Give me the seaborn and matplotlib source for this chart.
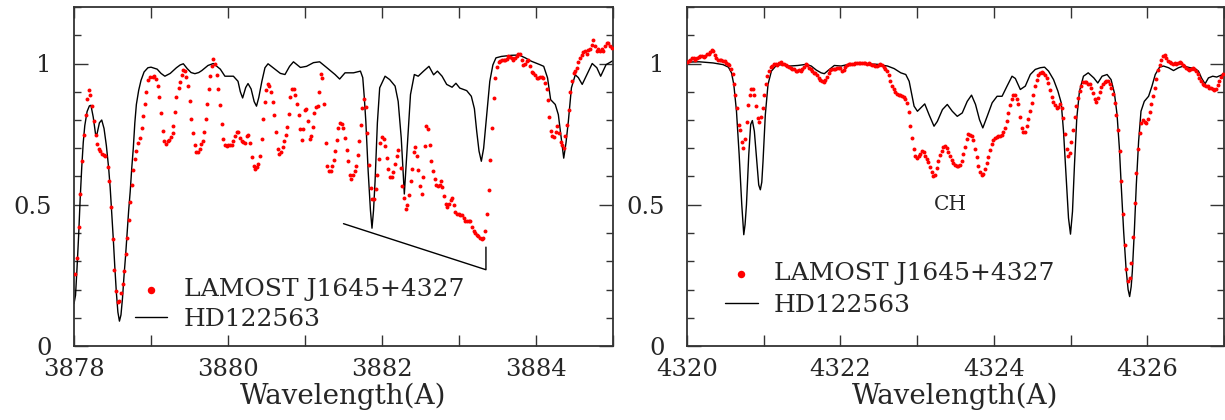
import numpy as np
import pandas as pd
import matplotlib
matplotlib.use('Agg')
import matplotlib.pyplot as plt
import seaborn as sns
from matplotlib.ticker import MultipleLocator, FuncFormatter

sns.set_style('ticks')
plt.rcParams['font.family'] = ['DejaVu Serif']
plt.rcParams['xtick.direction'] = 'in'
plt.rcParams['ytick.direction'] = 'in'

STAR = 'LAMOST J1645+4327'
REF = 'HD122563'

# ---- left window (3878-3885 A): LAMOST points (wavelength, flux) ----
left_dots = [
    (3878.010, 0.254), (3878.040, 0.313), (3878.065, 0.420), (3878.080, 0.538), (3878.100, 0.654),
    (3878.130, 0.748), (3878.150, 0.819), (3878.170, 0.876), (3878.190, 0.905), (3878.210, 0.890),
    (3878.230, 0.851), (3878.260, 0.795), (3878.280, 0.746), (3878.300, 0.715), (3878.320, 0.699),
    (3878.340, 0.690), (3878.360, 0.680), (3878.385, 0.675), (3878.405, 0.674), (3878.440, 0.632),
    (3878.460, 0.585), (3878.485, 0.493), (3878.500, 0.378), (3878.520, 0.270), (3878.545, 0.193),
    (3878.570, 0.154), (3878.590, 0.160), (3878.610, 0.187), (3878.630, 0.219), (3878.650, 0.264),
    (3878.670, 0.325), (3878.690, 0.384), (3878.710, 0.446), (3878.730, 0.508), (3878.750, 0.570),
    (3878.770, 0.623), (3878.790, 0.661), (3878.810, 0.691), (3878.835, 0.718), (3878.857, 0.736),
    (3878.880, 0.772), (3878.900, 0.813), (3878.920, 0.855), (3878.940, 0.899), (3878.965, 0.942),
    (3878.990, 0.951), (3879.020, 0.953), (3879.040, 0.957), (3879.065, 0.946), (3879.085, 0.922),
    (3879.110, 0.881), (3879.125, 0.824), (3879.150, 0.762), (3879.170, 0.725), (3879.195, 0.715),
    (3879.220, 0.725), (3879.240, 0.730), (3879.255, 0.739), (3879.280, 0.753), (3879.290, 0.778),
    (3879.310, 0.827), (3879.330, 0.882), (3879.360, 0.914), (3879.380, 0.935), (3879.400, 0.958),
    (3879.420, 0.977), (3879.445, 0.972), (3879.460, 0.951), (3879.485, 0.920), (3879.500, 0.866),
    (3879.520, 0.804), (3879.545, 0.754), (3879.570, 0.713), (3879.590, 0.685), (3879.610, 0.686),
    (3879.630, 0.699), (3879.650, 0.715), (3879.670, 0.727), (3879.690, 0.757), (3879.710, 0.805),
    (3879.730, 0.857), (3879.750, 0.908), (3879.770, 0.957), (3879.790, 0.990), (3879.810, 1.016),
    (3879.831, 0.999), (3879.853, 0.961), (3879.874, 0.908), (3879.896, 0.852), (3879.918, 0.786),
    (3879.939, 0.734), (3879.961, 0.710), (3879.983, 0.709), (3880.004, 0.710), (3880.026, 0.712),
    (3880.048, 0.713), (3880.069, 0.725), (3880.091, 0.745), (3880.113, 0.758), (3880.134, 0.757),
    (3880.156, 0.736), (3880.178, 0.727), (3880.199, 0.721), (3880.221, 0.718), (3880.242, 0.742),
    (3880.264, 0.748), (3880.290, 0.718), (3880.312, 0.669), (3880.333, 0.638), (3880.355, 0.628),
    (3880.377, 0.632), (3880.394, 0.644), (3880.416, 0.671), (3880.437, 0.734), (3880.459, 0.805),
    (3880.481, 0.864), (3880.498, 0.907), (3880.515, 0.928), (3880.537, 0.920), (3880.559, 0.898),
    (3880.580, 0.864), (3880.602, 0.816), (3880.623, 0.757), (3880.645, 0.699), (3880.667, 0.680),
    (3880.688, 0.686), (3880.710, 0.703), (3880.727, 0.725), (3880.749, 0.748), (3880.771, 0.775),
    (3880.788, 0.823), (3880.810, 0.882), (3880.831, 0.911), (3880.853, 0.908), (3880.874, 0.887),
    (3880.896, 0.855), (3880.918, 0.817), (3880.939, 0.768), (3880.961, 0.728), (3880.978, 0.768),
    (3881.000, 0.837), (3881.017, 0.840), (3881.039, 0.798), (3881.061, 0.734), (3881.082, 0.742),
    (3881.100, 0.775), (3881.121, 0.825), (3881.143, 0.845), (3881.165, 0.851), (3881.186, 0.899),
    (3881.208, 0.963), (3881.225, 0.947), (3881.247, 0.855), (3881.268, 0.719), (3881.290, 0.636),
    (3881.312, 0.618), (3881.333, 0.621), (3881.355, 0.636), (3881.372, 0.660), (3881.394, 0.689),
    (3881.416, 0.730), (3881.433, 0.770), (3881.455, 0.790), (3881.476, 0.786), (3881.498, 0.772),
    (3881.519, 0.736), (3881.541, 0.693), (3881.563, 0.654), (3881.580, 0.606), (3881.602, 0.591),
    (3881.623, 0.604), (3881.645, 0.621), (3881.667, 0.636), (3881.684, 0.675), (3881.706, 0.727),
    (3881.727, 0.784), (3881.745, 0.843), (3881.766, 0.875), (3881.788, 0.846), (3881.810, 0.754),
    (3881.831, 0.642), (3881.853, 0.561), (3881.874, 0.520), (3881.896, 0.520), (3881.918, 0.557),
    (3881.935, 0.606), (3881.957, 0.663), (3881.978, 0.719), (3882.000, 0.739), (3882.022, 0.734),
    (3882.043, 0.707), (3882.065, 0.666), (3882.082, 0.628), (3882.104, 0.600), (3882.126, 0.597),
    (3882.147, 0.615), (3882.169, 0.644), (3882.190, 0.674), (3882.212, 0.693), (3882.242, 0.630),
    (3882.264, 0.565), (3882.286, 0.524), (3882.307, 0.486), (3882.329, 0.498), (3882.351, 0.533),
    (3882.372, 0.585), (3882.390, 0.627), (3882.411, 0.686), (3882.433, 0.703), (3882.455, 0.674),
    (3882.472, 0.622), (3882.494, 0.565), (3882.515, 0.539), (3882.537, 0.600), (3882.558, 0.709),
    (3882.576, 0.780), (3882.597, 0.768), (3882.619, 0.710), (3882.641, 0.656), (3882.662, 0.618),
    (3882.684, 0.591), (3882.706, 0.571), (3882.727, 0.565), (3882.749, 0.569), (3882.771, 0.583),
    (3882.784, 0.562), (3882.805, 0.530), (3882.827, 0.502), (3882.848, 0.491), (3882.870, 0.504),
    (3882.892, 0.518), (3882.913, 0.524), (3882.931, 0.500), (3882.952, 0.476), (3882.974, 0.469),
    (3882.996, 0.467), (3883.017, 0.465), (3883.039, 0.462), (3883.061, 0.453), (3883.082, 0.441),
    (3883.104, 0.443), (3883.126, 0.441), (3883.147, 0.443), (3883.169, 0.420), (3883.190, 0.408),
    (3883.212, 0.400), (3883.230, 0.393), (3883.251, 0.388), (3883.273, 0.382), (3883.294, 0.378),
    (3883.316, 0.384), (3883.338, 0.408), (3883.364, 0.467), (3883.385, 0.552), (3883.407, 0.657),
    (3883.429, 0.772), (3883.450, 0.877), (3883.472, 0.949), (3883.494, 0.987), (3883.515, 1.006),
    (3883.537, 1.008), (3883.558, 1.011), (3883.580, 1.012), (3883.602, 1.014), (3883.623, 1.017),
    (3883.641, 1.026), (3883.662, 1.022), (3883.684, 1.018), (3883.706, 1.014), (3883.727, 1.020),
    (3883.749, 1.026), (3883.771, 1.032), (3883.792, 1.035), (3883.814, 1.014), (3883.836, 0.996),
    (3883.857, 1.000), (3883.879, 1.008), (3883.900, 1.011), (3883.922, 0.991), (3883.944, 0.970),
    (3883.965, 0.967), (3883.987, 0.961), (3884.009, 0.949), (3884.030, 0.947), (3884.052, 0.952),
    (3884.074, 0.952), (3884.095, 0.947), (3884.117, 0.931), (3884.139, 0.911), (3884.156, 0.872),
    (3884.173, 0.811), (3884.190, 0.760), (3884.212, 0.742), (3884.234, 0.740), (3884.255, 0.757),
    (3884.277, 0.778), (3884.299, 0.754), (3884.320, 0.722), (3884.342, 0.710), (3884.359, 0.701),
    (3884.381, 0.742), (3884.403, 0.784), (3884.424, 0.837), (3884.446, 0.900), (3884.468, 0.937),
    (3884.489, 0.967), (3884.507, 0.973), (3884.528, 0.985), (3884.550, 1.005), (3884.571, 1.018),
    (3884.593, 1.030), (3884.615, 1.040), (3884.636, 1.044), (3884.658, 1.034), (3884.680, 1.047),
    (3884.701, 1.050), (3884.723, 1.065), (3884.745, 1.082), (3884.766, 1.062), (3884.788, 1.046),
    (3884.810, 1.050), (3884.831, 1.046), (3884.853, 1.052), (3884.874, 1.046), (3884.896, 1.062),
    (3884.918, 1.071), (3884.939, 1.073), (3884.961, 1.062), (3884.983, 1.056),
]

# ---- left window: HD122563 comparison spectrum ----
left_line = [
    (3878.000, 0.150), (3878.020, 0.180), (3878.040, 0.280), (3878.060, 0.390), (3878.080, 0.520),
    (3878.100, 0.630), (3878.120, 0.720), (3878.140, 0.780), (3878.170, 0.830), (3878.200, 0.850),
    (3878.220, 0.852), (3878.250, 0.810), (3878.280, 0.750), (3878.300, 0.752), (3878.330, 0.790),
    (3878.360, 0.800), (3878.390, 0.770), (3878.420, 0.710), (3878.450, 0.630), (3878.470, 0.560),
    (3878.490, 0.470), (3878.510, 0.380), (3878.530, 0.280), (3878.550, 0.190), (3878.570, 0.120),
    (3878.590, 0.088), (3878.610, 0.110), (3878.630, 0.170), (3878.650, 0.250), (3878.670, 0.320),
    (3878.690, 0.400), (3878.710, 0.480), (3878.730, 0.547), (3878.750, 0.630), (3878.770, 0.700),
    (3878.790, 0.790), (3878.810, 0.855), (3878.840, 0.905), (3878.870, 0.940), (3878.910, 0.970),
    (3878.960, 0.985), (3879.000, 0.987), (3879.080, 0.980), (3879.130, 0.965), (3879.180, 0.955),
    (3879.250, 0.965), (3879.330, 0.985), (3879.380, 0.995), (3879.420, 0.999), (3879.470, 0.982),
    (3879.520, 0.968), (3879.570, 0.964), (3879.620, 0.968), (3879.660, 0.975), (3879.740, 0.993),
    (3879.810, 1.000), (3879.900, 0.980), (3879.960, 0.955), (3880.070, 0.955), (3880.130, 0.937),
    (3880.160, 0.900), (3880.190, 0.878), (3880.230, 0.915), (3880.260, 0.929), (3880.300, 0.910),
    (3880.340, 0.865), (3880.370, 0.849), (3880.400, 0.880), (3880.440, 0.937), (3880.480, 0.985),
    (3880.520, 0.999), (3880.610, 0.980), (3880.680, 0.965), (3880.740, 0.961), (3880.800, 0.990),
    (3880.850, 1.006), (3880.940, 0.986), (3881.020, 0.990), (3881.110, 1.003), (3881.190, 1.006),
    (3881.280, 0.986), (3881.390, 0.961), (3881.450, 0.945), (3881.520, 0.967), (3881.630, 0.967),
    (3881.720, 0.973), (3881.750, 0.950), (3881.770, 0.880), (3881.790, 0.795), (3881.820, 0.620),
    (3881.850, 0.480), (3881.870, 0.417), (3881.890, 0.480), (3881.910, 0.583), (3881.940, 0.790),
    (3881.970, 0.914), (3882.040, 0.955), (3882.100, 0.943), (3882.170, 0.920), (3882.210, 0.866),
    (3882.250, 0.736), (3882.290, 0.538), (3882.330, 0.713), (3882.370, 0.890), (3882.420, 0.961),
    (3882.470, 0.955), (3882.540, 0.973), (3882.610, 0.990), (3882.670, 0.960), (3882.720, 0.973),
    (3882.780, 0.955), (3882.840, 0.926), (3882.910, 0.916), (3882.960, 0.930), (3883.010, 0.913),
    (3883.100, 0.904), (3883.160, 0.884), (3883.200, 0.840), (3883.230, 0.760), (3883.260, 0.690),
    (3883.290, 0.654), (3883.320, 0.700), (3883.350, 0.790), (3883.400, 0.937), (3883.440, 0.995),
    (3883.480, 1.020), (3883.550, 1.025), (3883.680, 1.029), (3883.780, 1.030), (3883.860, 1.020),
    (3883.940, 1.008), (3884.050, 0.996), (3884.100, 0.990), (3884.150, 0.949), (3884.190, 0.872),
    (3884.250, 0.855), (3884.290, 0.819), (3884.330, 0.730), (3884.360, 0.665), (3884.390, 0.720),
    (3884.420, 0.795), (3884.460, 0.914), (3884.510, 0.960), (3884.550, 0.950), (3884.600, 0.926),
    (3884.660, 0.960), (3884.730, 1.000), (3884.790, 0.985), (3884.840, 0.955), (3884.910, 0.996),
    (3885.000, 1.010),
]

# ---- right window (4320-4327 A): LAMOST points ----
right_dots = [
    (4320.000, 1.006), (4320.021, 1.010), (4320.043, 1.014), (4320.065, 1.018), (4320.086, 1.018),
    (4320.108, 1.014), (4320.130, 1.018), (4320.151, 1.022), (4320.173, 1.025), (4320.194, 1.026),
    (4320.216, 1.022), (4320.238, 1.026), (4320.260, 1.032), (4320.281, 1.034), (4320.303, 1.040),
    (4320.324, 1.048), (4320.341, 1.044), (4320.359, 1.029), (4320.381, 1.018), (4320.402, 1.011),
    (4320.424, 1.011), (4320.446, 1.011), (4320.467, 1.008), (4320.489, 1.008), (4320.510, 1.002),
    (4320.532, 0.999), (4320.554, 0.994), (4320.575, 0.982), (4320.597, 0.963), (4320.614, 0.926),
    (4320.632, 0.890), (4320.649, 0.843), (4320.675, 0.784), (4320.697, 0.766), (4320.714, 0.722),
    (4320.736, 0.701), (4320.757, 0.734), (4320.779, 0.793), (4320.800, 0.852), (4320.818, 0.890),
    (4320.840, 0.911), (4320.861, 0.911), (4320.878, 0.890), (4320.900, 0.849), (4320.922, 0.807),
    (4320.943, 0.793), (4320.965, 0.810), (4320.987, 0.843), (4321.004, 0.888), (4321.026, 0.926),
    (4321.047, 0.955), (4321.069, 0.973), (4321.090, 0.987), (4321.112, 0.991), (4321.134, 0.997),
    (4321.155, 0.999), (4321.177, 0.994), (4321.199, 1.002), (4321.220, 1.006), (4321.242, 0.999),
    (4321.264, 0.997), (4321.285, 0.994), (4321.307, 0.991), (4321.329, 0.989), (4321.350, 0.985),
    (4321.372, 0.982), (4321.394, 0.979), (4321.415, 0.975), (4321.437, 0.973), (4321.459, 0.977),
    (4321.480, 0.975), (4321.502, 0.982), (4321.524, 0.987), (4321.545, 0.997), (4321.567, 0.993),
    (4321.588, 0.985), (4321.610, 0.979), (4321.632, 0.973), (4321.653, 0.968), (4321.675, 0.965),
    (4321.697, 0.960), (4321.718, 0.950), (4321.740, 0.942), (4321.762, 0.937), (4321.783, 0.934),
    (4321.805, 0.940), (4321.826, 0.952), (4321.848, 0.967), (4321.870, 0.977), (4321.892, 0.982),
    (4321.913, 0.982), (4321.935, 0.981), (4321.957, 0.983), (4321.978, 0.985), (4322.000, 0.983),
    (4322.022, 0.975), (4322.043, 0.978), (4322.065, 0.988), (4322.087, 0.994), (4322.108, 0.997),
    (4322.130, 0.999), (4322.152, 0.998), (4322.173, 0.999), (4322.195, 1.001), (4322.217, 1.002),
    (4322.238, 1.003), (4322.260, 1.001), (4322.282, 1.001), (4322.303, 1.002), (4322.325, 1.002),
    (4322.347, 0.999), (4322.368, 1.001), (4322.390, 0.999), (4322.412, 0.996), (4322.433, 0.994),
    (4322.455, 0.990), (4322.477, 0.991), (4322.498, 0.993), (4322.520, 0.999), (4322.542, 0.994),
    (4322.563, 0.989), (4322.585, 0.982), (4322.607, 0.973), (4322.628, 0.958), (4322.650, 0.938),
    (4322.672, 0.922), (4322.693, 0.910), (4322.715, 0.898), (4322.737, 0.893), (4322.758, 0.890),
    (4322.780, 0.888), (4322.802, 0.885), (4322.823, 0.881), (4322.845, 0.874), (4322.867, 0.860),
    (4322.888, 0.828), (4322.910, 0.780), (4322.932, 0.735), (4322.953, 0.697), (4322.975, 0.674),
    (4322.997, 0.664), (4323.018, 0.672), (4323.040, 0.681), (4323.062, 0.689), (4323.083, 0.685),
    (4323.105, 0.674), (4323.127, 0.663), (4323.148, 0.651), (4323.170, 0.634), (4323.192, 0.615),
    (4323.213, 0.601), (4323.235, 0.607), (4323.257, 0.630), (4323.278, 0.654), (4323.300, 0.675),
    (4323.322, 0.692), (4323.343, 0.705), (4323.365, 0.708), (4323.387, 0.702), (4323.408, 0.688),
    (4323.430, 0.672), (4323.452, 0.658), (4323.473, 0.647), (4323.495, 0.641), (4323.517, 0.637),
    (4323.538, 0.636), (4323.560, 0.642), (4323.582, 0.655), (4323.603, 0.680), (4323.625, 0.706),
    (4323.647, 0.732), (4323.668, 0.749), (4323.690, 0.748), (4323.712, 0.742), (4323.733, 0.730),
    (4323.755, 0.698), (4323.777, 0.668), (4323.798, 0.638), (4323.820, 0.616), (4323.842, 0.605),
    (4323.863, 0.609), (4323.885, 0.625), (4323.907, 0.648), (4323.928, 0.670), (4323.950, 0.694),
    (4323.972, 0.715), (4323.993, 0.729), (4324.015, 0.737), (4324.037, 0.741), (4324.058, 0.742),
    (4324.080, 0.742), (4324.102, 0.746), (4324.123, 0.757), (4324.145, 0.773), (4324.167, 0.795),
    (4324.188, 0.826), (4324.210, 0.854), (4324.232, 0.876), (4324.253, 0.890), (4324.275, 0.889),
    (4324.297, 0.876), (4324.318, 0.855), (4324.340, 0.812), (4324.362, 0.773), (4324.383, 0.756),
    (4324.405, 0.758), (4324.427, 0.779), (4324.448, 0.804), (4324.470, 0.831), (4324.492, 0.859),
    (4324.513, 0.889), (4324.535, 0.919), (4324.557, 0.942), (4324.578, 0.958), (4324.600, 0.966),
    (4324.622, 0.970), (4324.643, 0.968), (4324.665, 0.961), (4324.687, 0.950), (4324.708, 0.931),
    (4324.730, 0.905), (4324.752, 0.882), (4324.773, 0.865), (4324.795, 0.852), (4324.817, 0.844),
    (4324.838, 0.847), (4324.860, 0.855), (4324.882, 0.842), (4324.903, 0.806), (4324.925, 0.752),
    (4324.947, 0.699), (4324.968, 0.673), (4324.990, 0.682), (4325.012, 0.722), (4325.033, 0.764),
    (4325.055, 0.810), (4325.077, 0.849), (4325.098, 0.878), (4325.120, 0.903), (4325.142, 0.922),
    (4325.163, 0.934), (4325.185, 0.936), (4325.207, 0.933), (4325.228, 0.929), (4325.250, 0.927),
    (4325.272, 0.915), (4325.293, 0.894), (4325.315, 0.873), (4325.337, 0.864), (4325.358, 0.878),
    (4325.380, 0.899), (4325.402, 0.918), (4325.423, 0.929), (4325.445, 0.935), (4325.467, 0.939),
    (4325.488, 0.938), (4325.510, 0.928), (4325.532, 0.915), (4325.553, 0.893), (4325.575, 0.861),
    (4325.597, 0.818), (4325.618, 0.763), (4325.640, 0.690), (4325.662, 0.585), (4325.683, 0.468),
    (4325.705, 0.358), (4325.727, 0.272), (4325.748, 0.230), (4325.770, 0.240), (4325.792, 0.295),
    (4325.813, 0.385), (4325.835, 0.505), (4325.857, 0.612), (4325.878, 0.697), (4325.900, 0.755),
    (4325.922, 0.790), (4325.943, 0.800), (4325.965, 0.794), (4325.987, 0.791), (4326.008, 0.803),
    (4326.030, 0.828), (4326.052, 0.855), (4326.073, 0.885), (4326.095, 0.915), (4326.117, 0.946),
    (4326.138, 0.976), (4326.160, 0.996), (4326.182, 1.011), (4326.203, 1.027), (4326.225, 1.030),
    (4326.247, 1.019), (4326.268, 1.010), (4326.290, 1.006), (4326.312, 1.003), (4326.333, 1.000),
    (4326.355, 1.001), (4326.377, 0.999), (4326.398, 1.002), (4326.420, 1.005), (4326.442, 1.002),
    (4326.463, 0.996), (4326.485, 0.990), (4326.507, 0.984), (4326.528, 0.979), (4326.550, 0.978),
    (4326.572, 0.981), (4326.593, 0.985), (4326.615, 0.982), (4326.637, 0.975), (4326.658, 0.964),
    (4326.680, 0.950), (4326.702, 0.938), (4326.723, 0.928), (4326.745, 0.923), (4326.767, 0.920),
    (4326.788, 0.919), (4326.810, 0.915), (4326.832, 0.912), (4326.853, 0.909), (4326.875, 0.905),
    (4326.897, 0.910), (4326.918, 0.924), (4326.940, 0.939), (4326.962, 0.953), (4326.983, 0.962),
]

# ---- right window: HD122563 ----
right_line = [
    (4320.000, 1.005), (4320.160, 1.006), (4320.340, 1.002), (4320.470, 0.996), (4320.540, 0.987),
    (4320.580, 0.967), (4320.610, 0.926), (4320.645, 0.831), (4320.680, 0.677), (4320.714, 0.500),
    (4320.740, 0.394), (4320.757, 0.430), (4320.775, 0.500), (4320.805, 0.677), (4320.830, 0.784),
    (4320.852, 0.798), (4320.878, 0.760), (4320.913, 0.642), (4320.935, 0.570), (4320.956, 0.553),
    (4320.975, 0.580), (4320.991, 0.654), (4321.021, 0.819), (4321.056, 0.926), (4321.100, 0.973),
    (4321.164, 0.993), (4321.250, 0.997), (4321.337, 0.991), (4321.445, 0.993), (4321.554, 0.997),
    (4321.620, 0.991), (4321.684, 0.977), (4321.748, 0.967), (4321.790, 0.964), (4321.856, 0.979),
    (4321.920, 0.993), (4322.008, 0.991), (4322.138, 0.999), (4322.311, 0.999), (4322.484, 0.997),
    (4322.614, 0.991), (4322.700, 0.982), (4322.787, 0.967), (4322.852, 0.961), (4322.896, 0.937),
    (4322.930, 0.890), (4322.960, 0.849), (4323.004, 0.831), (4323.047, 0.843), (4323.099, 0.857),
    (4323.155, 0.819), (4323.220, 0.778), (4323.263, 0.795), (4323.330, 0.837), (4323.393, 0.855),
    (4323.458, 0.831), (4323.523, 0.813), (4323.588, 0.825), (4323.653, 0.866), (4323.709, 0.888),
    (4323.761, 0.855), (4323.813, 0.801), (4323.856, 0.772), (4323.913, 0.813), (4323.978, 0.861),
    (4324.042, 0.884), (4324.107, 0.884), (4324.172, 0.920), (4324.237, 0.955), (4324.280, 0.947),
    (4324.345, 0.908), (4324.410, 0.920), (4324.475, 0.961), (4324.540, 0.979), (4324.605, 0.985),
    (4324.661, 0.987), (4324.713, 0.973), (4324.778, 0.943), (4324.835, 0.902), (4324.878, 0.861),
    (4324.908, 0.760), (4324.943, 0.595), (4324.973, 0.453), (4324.999, 0.396), (4325.025, 0.476),
    (4325.051, 0.642), (4325.081, 0.807), (4325.116, 0.902), (4325.168, 0.955), (4325.230, 0.967),
    (4325.303, 0.949), (4325.355, 0.931), (4325.411, 0.955), (4325.476, 0.961), (4325.528, 0.943),
    (4325.571, 0.896), (4325.606, 0.819), (4325.636, 0.701), (4325.662, 0.559), (4325.692, 0.405),
    (4325.723, 0.275), (4325.750, 0.200), (4325.770, 0.175), (4325.790, 0.210), (4325.805, 0.264),
    (4325.831, 0.405), (4325.857, 0.571), (4325.887, 0.725), (4325.918, 0.831), (4325.961, 0.866),
    (4326.017, 0.884), (4326.061, 0.920), (4326.104, 0.961), (4326.160, 0.987), (4326.212, 0.991),
    (4326.277, 0.985), (4326.342, 0.975), (4326.407, 0.985), (4326.472, 0.991), (4326.558, 0.985),
    (4326.623, 0.982), (4326.667, 0.973), (4326.710, 0.947), (4326.753, 0.928), (4326.797, 0.949),
    (4326.853, 0.955), (4326.905, 0.952), (4326.948, 0.957), (4326.983, 0.961), (4327.000, 0.965),
]

# bracket under the blended region in the left window
bracket_wave = [3881.50, 3883.35, 3883.35]
bracket_flux = [0.433, 0.270, 0.350]

ch_label = (4323.43, 0.50)


def to_df(pairs):
    return pd.DataFrame(pairs, columns=['wave', 'flux'])


def even_label(x, pos):
    return '%d' % round(x) if round(x) % 2 == 0 else ''


def style_axes(ax, x0, x1):
    ax.set_xlim(x0, x1)
    ax.set_ylim(0, 1.2)
    ax.xaxis.set_major_locator(MultipleLocator(1))
    ax.xaxis.set_major_formatter(FuncFormatter(even_label))
    ax.yaxis.set_major_locator(MultipleLocator(0.5))
    ax.yaxis.set_minor_locator(MultipleLocator(0.1))
    ax.yaxis.set_major_formatter(FuncFormatter(lambda v, p: '%g' % v))
    ax.tick_params(which='both', top=True, right=True, direction='in',
                   color='#333333', width=1.0, labelsize=17.5)
    ax.tick_params(axis='x', which='major', length=8, pad=9)
    ax.tick_params(axis='y', which='major', length=10, pad=16)
    ax.tick_params(axis='y', which='minor', length=5)
    for sp in ax.spines.values():
        sp.set_visible(True)
        sp.set_color('#333333')
        sp.set_linewidth(1.3)
    ax.set_xlabel('Wavelength(A)', fontsize=20, labelpad=1)
    ax.set_ylabel('')


def draw_panel(ax, dots, line):
    sns.scatterplot(data=to_df(dots), x='wave', y='flux', ax=ax, color='#ff0000',
                    s=8, linewidth=0, label=STAR, zorder=3)
    sns.lineplot(data=to_df(line), x='wave', y='flux', ax=ax, color='black',
                 linewidth=1.0, sort=False, estimator=None, label=REF, zorder=2)


fig = plt.figure(figsize=(12.25, 4.2), dpi=100)
ax1 = fig.add_axes([74 / 1225, 74 / 420, 539 / 1225, 339 / 420])
ax2 = fig.add_axes([687 / 1225, 74 / 420, 537 / 1225, 339 / 420])

draw_panel(ax1, left_dots, left_line)
ax1.plot(bracket_wave, bracket_flux, color='black', linewidth=1.0)
style_axes(ax1, 3878, 3885)

draw_panel(ax2, right_dots, right_line)
ax2.text(ch_label[0], ch_label[1], 'CH', fontsize=14.5, ha='center', va='center')
style_axes(ax2, 4320, 4327)

for ax, anchor, spacing in [(ax1, (0.113, 0.045), 0.25), (ax2, (0.071, 0.085), 0.35)]:
    h, l = ax.get_legend_handles_labels()
    order = [l.index(STAR), l.index(REF)]
    ax.legend([h[i] for i in order], [l[i] for i in order], loc='lower left',
              bbox_to_anchor=anchor, frameon=False, fontsize=18, markerscale=1.9,
              handlelength=1.3, handletextpad=0.65, labelspacing=spacing,
              borderpad=0, borderaxespad=0)

fig.savefig('out.png', dpi=100)
